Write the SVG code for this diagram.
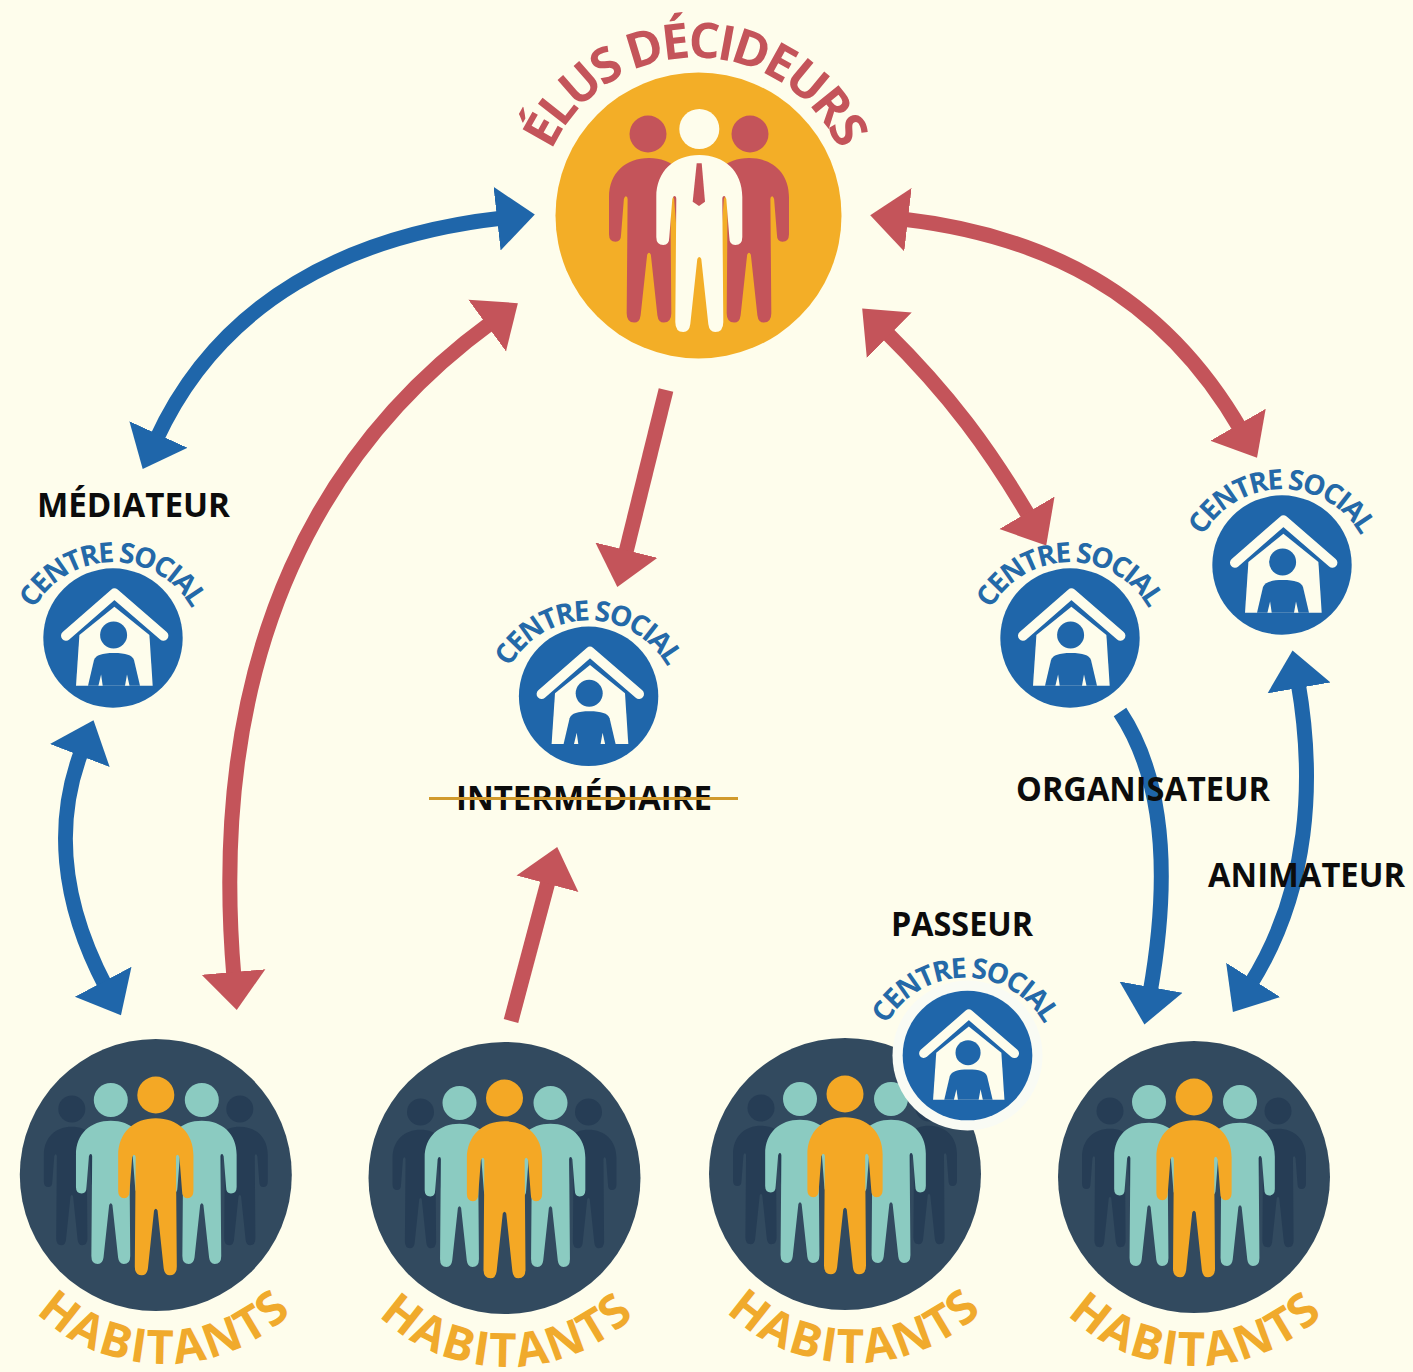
<svg xmlns="http://www.w3.org/2000/svg" width="1413" height="1372" viewBox="0 0 1413 1372">
<style>
text{font-family:"Open Sans","Liberation Sans",sans-serif;font-weight:700}
.lab{font-size:34px;fill:#0c0c0c}
.cs{font-size:28px;fill:#2469a8;text-anchor:middle}
.hab{font-size:47px;fill:#f0aa2c;text-anchor:middle}
.elu{font-size:49px;fill:#c4545a;text-anchor:middle}
.blue{fill:none;stroke:#1f66aa;stroke-width:15}
.red{fill:none;stroke:#c4545a;stroke-width:15}
.mb{marker-end:url(#hb)}
.mbb{marker-start:url(#hb);marker-end:url(#hb)}
.mr{marker-end:url(#hr)}
.mrr{marker-start:url(#hr);marker-end:url(#hr)}
</style>
<defs>
<marker id="hb" markerUnits="userSpaceOnUse" orient="auto-start-reverse" markerWidth="44" markerHeight="70" refX="6" refY="35" viewBox="0 0 44 70"><path d="M0,3 L38,35 L0,67Z" fill="#1f66aa"/></marker>
<marker id="hr" markerUnits="userSpaceOnUse" orient="auto-start-reverse" markerWidth="44" markerHeight="70" refX="6" refY="35" viewBox="0 0 44 70"><path d="M0,3 L38,35 L0,67Z" fill="#c4545a"/></marker>
<path id="p" d="M0 0C25 0 43 16 43 42L43 82Q43 90 36 90Q30 90 30 82L27 44Q26 41 25 41Q23 41 23 44L24 167Q24 177 16 177Q10 177 9 169L2 104Q1 102 0 102Q-1 102-2 104L-9 169Q-10 177-16 177Q-24 177-24 167L-23 44Q-23 41-25 41Q-26 41-27 44L-30 82Q-30 90-36 90Q-43 90-43 82L-43 42C-43 16-25 0 0 0Z"/>
<path id="arcCs" d="M-88.6,-1.6 A90,90 0 0 1 88.6,-1.6"/>
<path id="arcHab" d="M-160.2,96.5 A185,185 0 0 0 160.2,96.5"/>
<path id="arcElu" d="M-155.6,-27.4 A158,158 0 0 1 155.6,-27.4"/>
<g id="crowd">
<circle r="136" fill="#324a5f"/>
<g fill="#263d55"><circle cx="-84" cy="-66" r="13.5"/><circle cx="84" cy="-66" r="13.5"/>
<use href="#p" transform="translate(-84,-48.3) scale(.65,.67)"/><use href="#p" transform="translate(84,-48.3) scale(.65,.67)"/></g>
<g fill="#8bcbc1"><circle cx="-45" cy="-75" r="17"/><circle cx="46" cy="-75" r="17"/>
<use href="#p" transform="translate(-45,-54.3) scale(.81)"/><use href="#p" transform="translate(46,-54.3) scale(.81)"/></g>
<g fill="#f4a825"><circle cy="-80" r="18.5"/><use href="#p" transform="translate(0,-56.7) scale(.875,.887)"/></g>
</g>
<g id="house">
<circle r="69.7" fill="#1f66aa"/>
<path d="M1.4-31.3L36.4-3L39.7 47.7L-37 47.7L-33.6-3Z" fill="#fefdec"/>
<path d="M-47-2.3L1.4-44.6L50.4-2.3" fill="none" stroke="#fefdec" stroke-width="10" stroke-linecap="round" stroke-linejoin="round"/>
<circle cx=".6" cy="-3" r="13.5" fill="#1f66aa"/>
<path d="M.9 15C-11 15-17 17-19 22L-25 47.7L27 47.7L21 22C19 17 13 15 .9 15Z" fill="#1f66aa"/>
<path d="M-14.6 47.7L-10.3 47.7L-11.9 36.4ZM12 47.7L16.5 47.7L14 36.4Z" fill="#fefdec"/>
</g>
</defs>
<rect width="1413" height="1372" fill="#fefdec"/>
<g id="connectors">
<path class="blue mbb" d="M503,218 C350,235 220,300 156,440"/>
<path class="red mrr" d="M492,322 C330,440 205,640 234,978"/>
<path class="red mr" d="M666,390 L625,556"/>
<path class="red mr" d="M511,1021 L549,878"/>
<path class="red mrr" d="M885,331 C950,395 990,450 1030,518"/>
<path class="red mrr" d="M902,219 C1040,235 1160,290 1241,430"/>
<path class="blue mb" d="M1120,712 C1165,780 1170,880 1150,993"/>
<path class="blue mbb" d="M1298,682 C1315,780 1310,890 1250,985"/>
<path class="blue mbb" d="M82,750 C55,820 60,900 106,987"/>
</g>
<g id="elus" transform="translate(698.5,215.5)">
<circle r="143" fill="#f3ae27"/>
<g transform="translate(-698.5,-215.5)">
<g fill="#c4545a"><circle cx="648" cy="134" r="18.5"/><circle cx="750" cy="134" r="18.5"/>
<use href="#p" transform="translate(649,158) scale(.93)"/><use href="#p" transform="translate(749,158) scale(.93)"/></g>
<circle cx="699.3" cy="129" r="20" fill="#fefdec"/>
<use href="#p" transform="translate(699.3,155)" fill="#fefdec"/>
<path d="M696.7 163.3H701.7L705 201.7L699 206L692.7 201.7Z" fill="#c4545a"/>
</g>
<text class="elu" textLength="362" transform="translate(-3,0)"><textPath href="#arcElu" startOffset="50%">ÉLUS DÉCIDEURS</textPath></text>
</g>
<g id="habitants-1" transform="translate(155.8,1175)"><use href="#crowd"/><text class="hab" textLength="282" transform="translate(8,0)"><textPath href="#arcHab" startOffset="50%">HABITANTS</textPath></text></g>
<g id="habitants-2" transform="translate(504.5,1178)"><use href="#crowd"/><text class="hab" textLength="282" transform="translate(2,0)"><textPath href="#arcHab" startOffset="50%">HABITANTS</textPath></text></g>
<g id="habitants-3" transform="translate(845,1174)"><use href="#crowd"/><text class="hab" textLength="282" transform="translate(9,0)"><textPath href="#arcHab" startOffset="50%">HABITANTS</textPath></text></g>
<g id="habitants-4" transform="translate(1194,1177)"><use href="#crowd"/><text class="hab" textLength="282" transform="translate(1,0)"><textPath href="#arcHab" startOffset="50%">HABITANTS</textPath></text></g>
<g id="centre-mediateur" transform="translate(113,638)"><use href="#house"/><text class="cs" textLength="192"><textPath href="#arcCs" startOffset="50%">CENTRE SOCIAL</textPath></text></g>
<g id="centre-intermediaire" transform="translate(588.6,696.3)"><use href="#house"/><text class="cs" textLength="192"><textPath href="#arcCs" startOffset="50%">CENTRE SOCIAL</textPath></text></g>
<g id="centre-organisateur" transform="translate(1070,638)"><use href="#house"/><text class="cs" textLength="192"><textPath href="#arcCs" startOffset="50%">CENTRE SOCIAL</textPath></text></g>
<g id="centre-animateur" transform="translate(1282,565)"><use href="#house"/><text class="cs" textLength="192"><textPath href="#arcCs" startOffset="50%">CENTRE SOCIAL</textPath></text></g>
<g id="centre-passeur" transform="translate(967.5,1055.5)"><circle r="75" fill="#f9fbf4"/><use href="#house" transform="scale(.93)"/><text class="cs" textLength="192" transform="translate(-2,-2)"><textPath href="#arcCs" startOffset="50%">CENTRE SOCIAL</textPath></text></g>
<g id="labels">
<text class="lab" x="37" y="517" textLength="193" lengthAdjust="spacingAndGlyphs">MÉDIATEUR</text>
<text class="lab" x="456" y="810" textLength="256" lengthAdjust="spacingAndGlyphs">INTERMÉDIAIRE</text>
<path d="M429,798.5H738" stroke="#d19a2c" stroke-width="3"/>
<text class="lab" x="1016" y="801" textLength="254" lengthAdjust="spacingAndGlyphs">ORGANISATEUR</text>
<text class="lab" x="1208" y="887" textLength="197" lengthAdjust="spacingAndGlyphs">ANIMATEUR</text>
<text class="lab" x="891" y="936" textLength="142" lengthAdjust="spacingAndGlyphs">PASSEUR</text>
</g>
</svg>
